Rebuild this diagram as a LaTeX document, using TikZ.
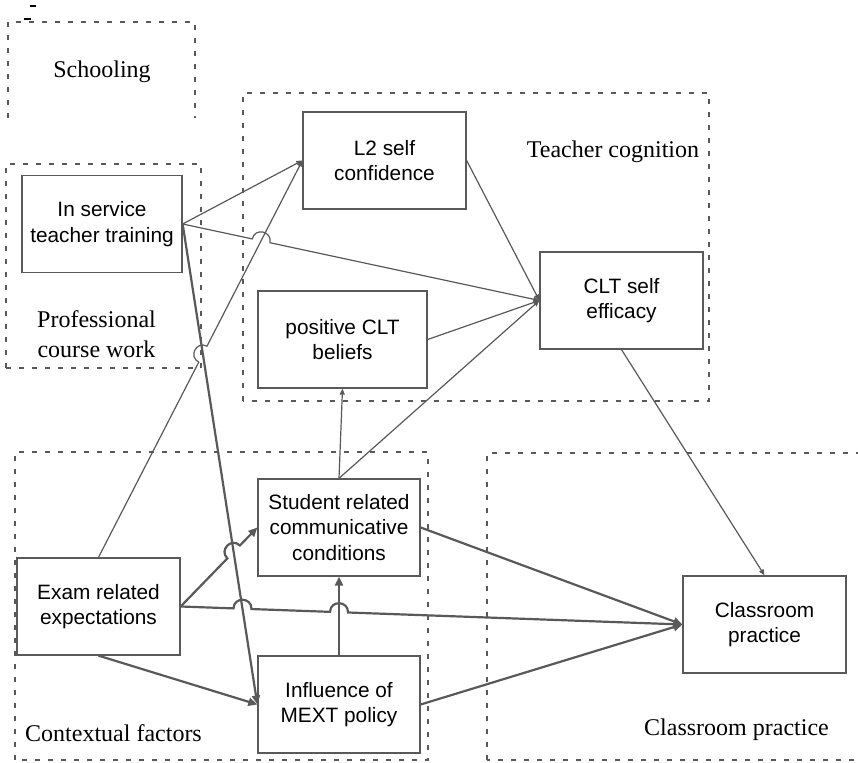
\documentclass[tikz,border=0pt]{standalone}
\usepackage{fontspec}
\setmainfont{Liberation Serif}
\newfontfamily\boxfont{Liberation Sans}
\usetikzlibrary{arrows.meta,calc,intersections}

\definecolor{linegray}{HTML}{595959}

\tikzset{
  box/.style={draw=linegray, line width=1.3pt, minimum width=163pt, minimum height=97pt,
    align=center, inner sep=0pt, font=\boxfont\fontsize{20.8}{25.5}\selectfont},
  zone/.style={draw=linegray, line width=1.8pt, dash pattern=on 5pt off 8pt},
  zonelabel/.style={align=center, font=\fontsize{24}{30}\selectfont},
  thinlink/.style={draw=linegray, line width=1.2pt, -{Triangle[length=6pt,width=5pt]}},
  thicklink/.style={draw=linegray, line width=2.2pt, -{Triangle[length=9pt,width=8pt]}},
  hop/.style={bend left=90, looseness=1.7}
}

\begin{document}
\begin{tikzpicture}[x=1pt, y=1pt]
\useasboundingbox (0,0) rectangle (858,762);

%% dashed zones
\draw[zone] (8,644) -- (8,740) -- (195,740) -- (195,644);
\draw[zone] (6,394) rectangle (201,598);
\draw[zone] (243,361) rectangle (709,669);
\draw[zone] (15,2) rectangle (428,310);
\draw[zone] (487,2) rectangle (864,309);
\draw[line width=1.5pt] (30,756) -- (36,756);
\draw[line width=1.5pt] (24,743) -- (31,743);

\node[zonelabel] (schoollab) at (102,690) {Schooling};
\node[zonelabel] (proflab) at (96.5,428) {Professional\\course work};
\node[zonelabel] (coglab) at (613,610) {Teacher cognition};
\node[zonelabel] (ctxlab) at (113.5,29) {Contextual factors};
\node[zonelabel] (roomlab) at (736.5,32) {Classroom practice};

%% boxes
\node[box, minimum width=160pt] (train) at (102,538) {In service\\teacher training};
\node[box] (conf) at (384.5,601.5) {L2 self\\confidence};
\node[box, minimum width=169pt] (belief) at (342.5,422.5) {positive CLT\\beliefs};
\node[box] (effic) at (621.5,461.5) {CLT self\\efficacy};
\node[box, minimum width=162pt] (stud) at (339,234.5) {Student related\\communicative\\conditions};
\node[box] (exam) at (98.5,155.5) {Exam related\\expectations};
\node[box, minimum width=162pt] (mext) at (339,57.5) {Influence of\\MEXT policy};
\node[box] (room) at (764.5,137.5) {Classroom\\practice};

%% crossing points for the hops
\path[name path=examline] (exam.north) -- (conf.west);
\path[name path=trainline] (train.east) -- (mext.west);
\path[name path=mextline] (mext.north) -- (stud.south);
\path[name path=efficline] (train.east) -- (effic.west);
\path[name path=studline] (exam.east) -- (stud.west);
\path[name path=roomline] (exam.east) -- (room.west);
\path[name intersections={of=efficline and examline, by=j1}];
\path[name intersections={of=examline and trainline, by=j2}];
\path[name intersections={of=studline and trainline, by=j3}];
\path[name intersections={of=roomline and trainline, by=j4}];
\path[name intersections={of=roomline and mextline, by=j5}];

%% thin links
\draw[thinlink] (train.east) -- (conf.west);
\draw[thinlink] (train.east) -- ($(j1)!9pt!(train.east)$) to[hop] ($(j1)!9pt!(effic.west)$) -- (effic.west);
\draw[thinlink] (exam.north) -- ($(j2)!9pt!(exam.north)$) to[hop] ($(j2)!9pt!(conf.west)$) -- (conf.west);
\draw[thinlink] (conf.east) -- (effic.west);
\draw[thinlink] (belief.east) -- (effic.west);
\draw[thinlink] (stud.north) -- (effic.west);
\draw[thinlink] (stud.north) -- (belief.south);
\draw[thinlink] (effic.south) -- (room.north);

%% thick links
\draw[thicklink] (train.east) -- (mext.west);
\draw[thicklink] (exam.east) -- ($(j3)!9pt!(exam.east)$) to[hop] ($(j3)!9pt!(stud.west)$) -- (stud.west);
\draw[thicklink] (exam.east) -- ($(j4)!9pt!(exam.east)$) to[hop] ($(j4)!9pt!(room.west)$)
  -- ($(j5)!9pt!(exam.east)$) to[hop] ($(j5)!9pt!(room.west)$) -- (room.west);
\draw[thicklink] (exam.south) -- (mext.west);
\draw[thicklink] (mext.north) -- (stud.south);
\draw[thicklink] (stud.east) -- (room.west);
\draw[thicklink] (mext.east) -- (room.west);

\end{tikzpicture}
\end{document}
